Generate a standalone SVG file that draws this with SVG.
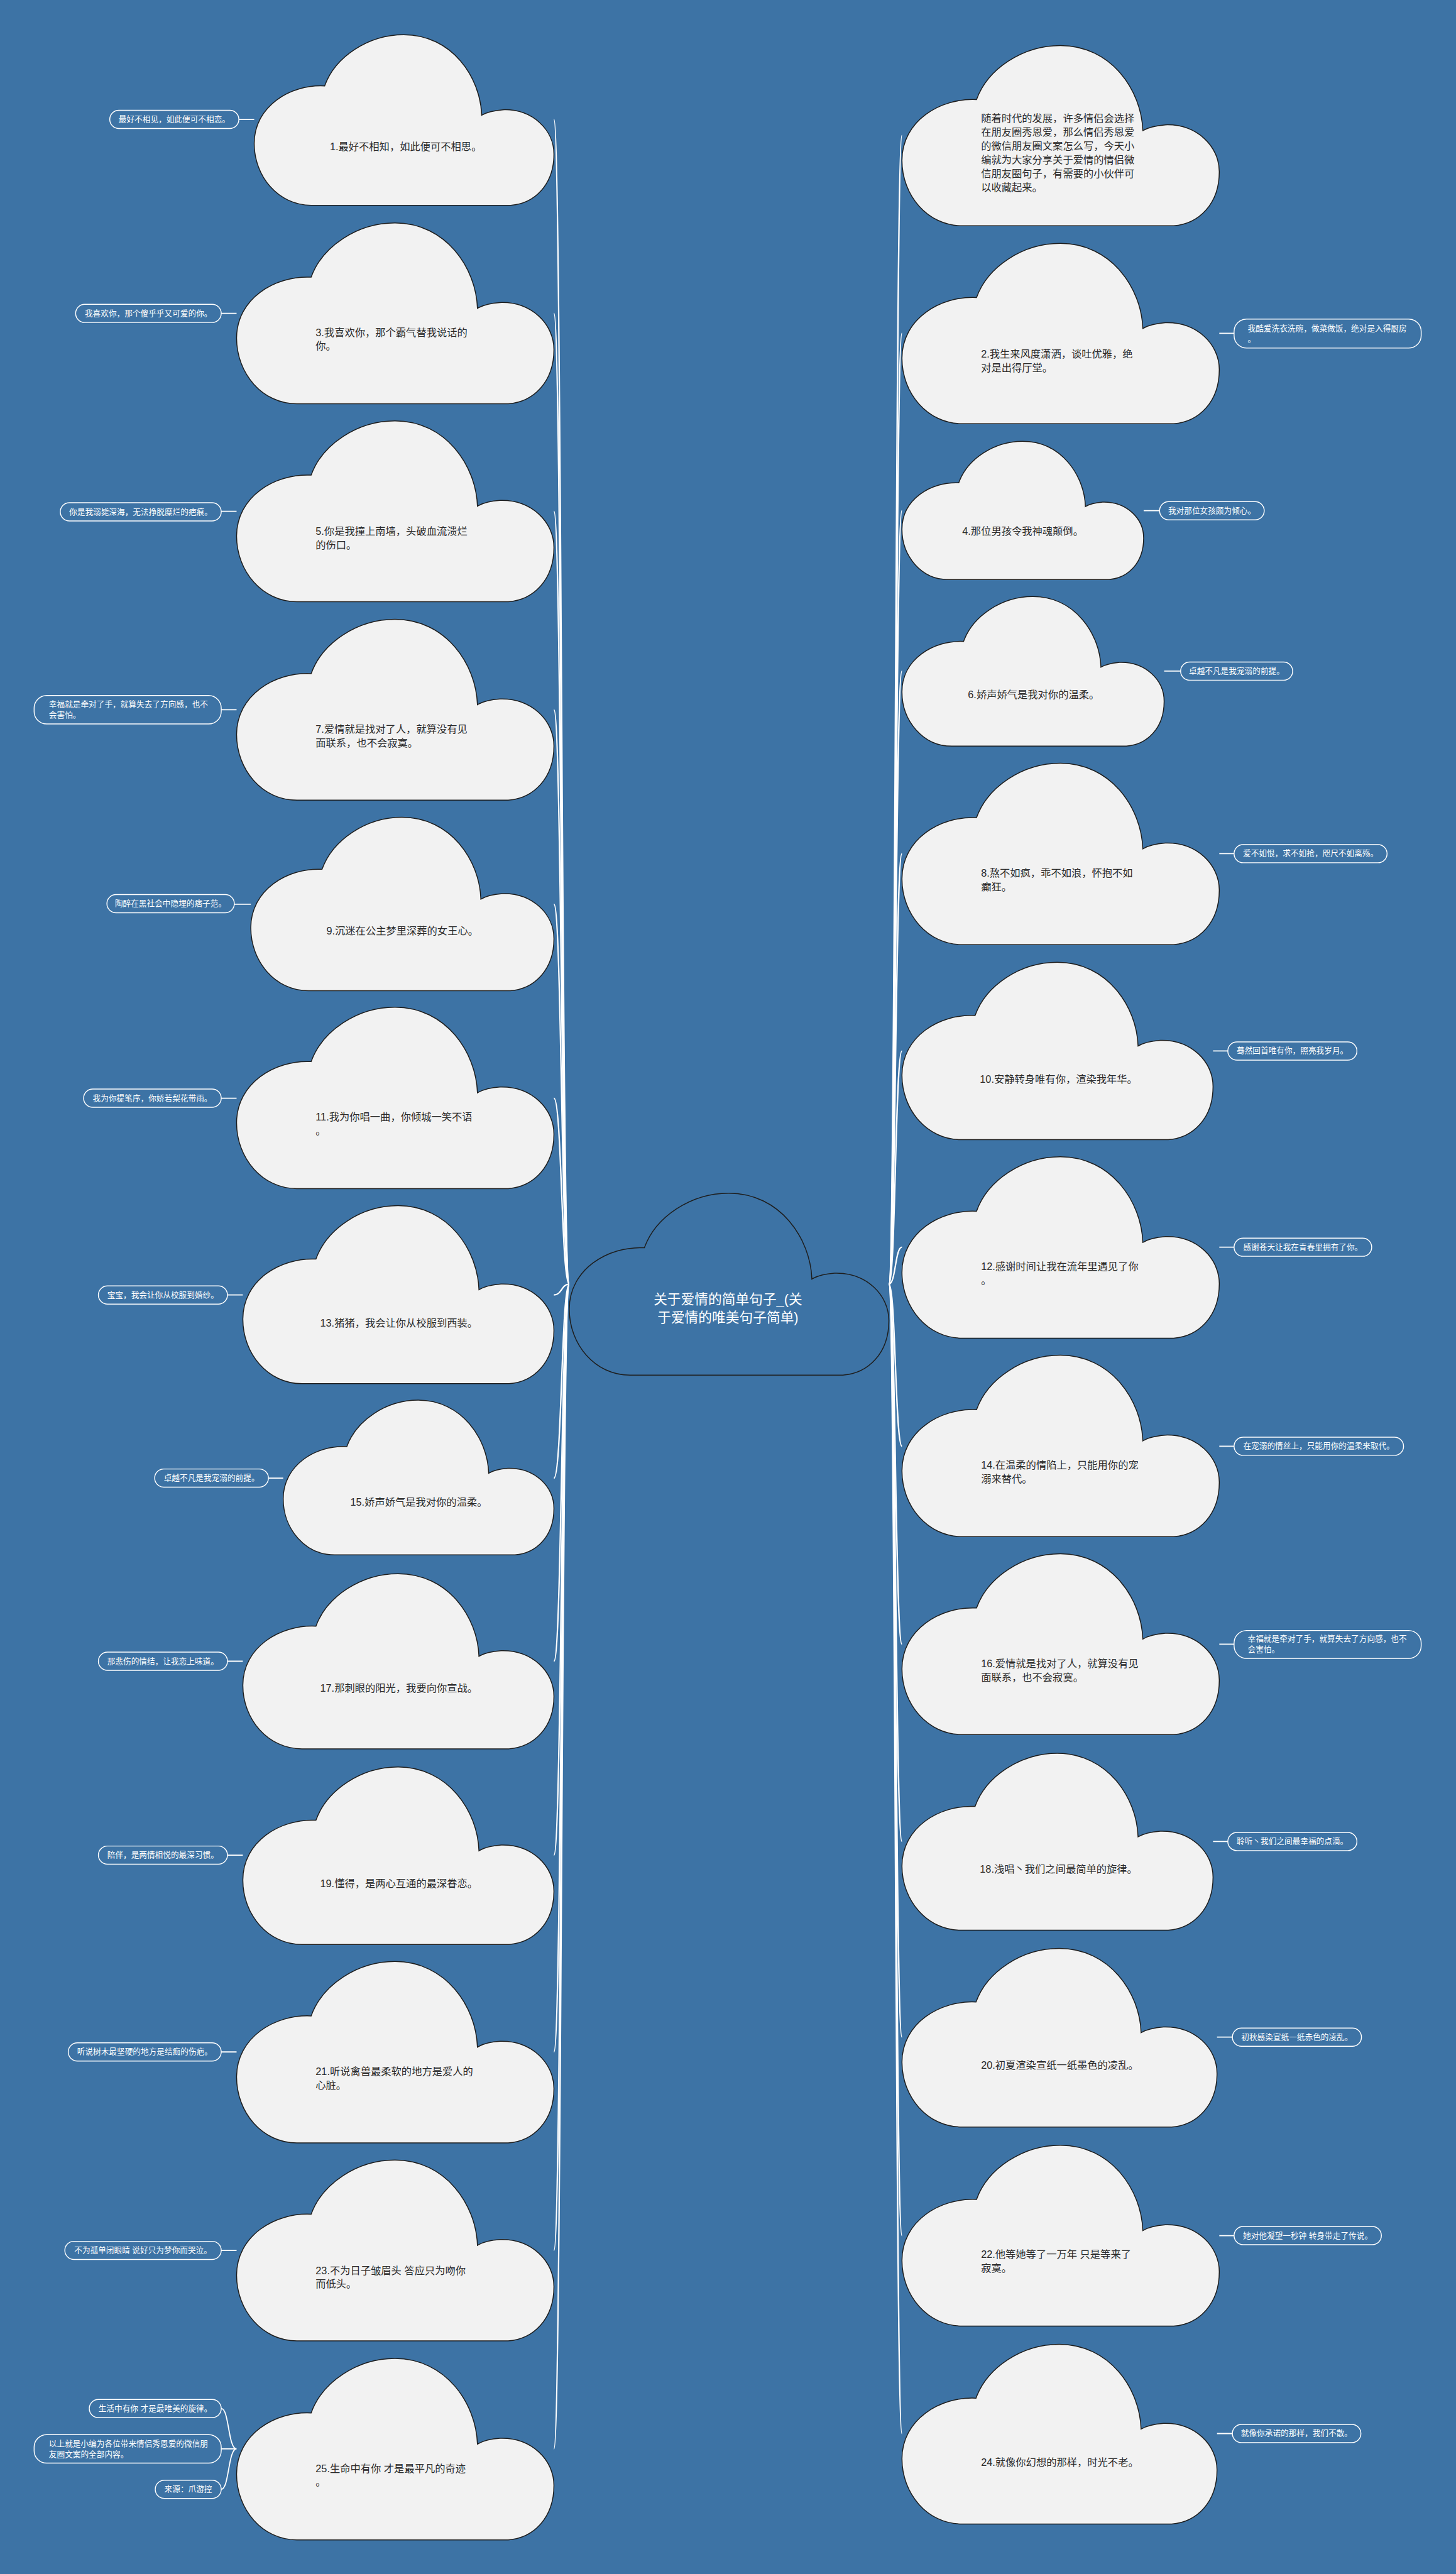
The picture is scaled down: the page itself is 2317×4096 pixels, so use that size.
<svg xmlns="http://www.w3.org/2000/svg" xmlns:xlink="http://www.w3.org/1999/xlink" width="2317" height="4096" viewBox="0 0 2317 4096">
<style>
.ct{font-family:'Liberation Sans','Noto Sans CJK SC',sans-serif;font-size:18px;fill:#2a2a2a;dominant-baseline:central}
.lt{font-family:'Liberation Sans','Noto Sans CJK SC',sans-serif;font-size:14px;fill:#ffffff;dominant-baseline:central;text-anchor:middle}
.lt2{font-family:'Liberation Sans','Noto Sans CJK SC',sans-serif;font-size:14px;fill:#ffffff;dominant-baseline:central}
.mt{font-family:'Liberation Sans','Noto Sans CJK SC',sans-serif;font-size:24px;fill:#ffffff;dominant-baseline:central;text-anchor:middle}
.cl{fill:#f2f2f2;stroke:#1e1e1e}
.cm{fill:#3d73a5;stroke:#1e1e1e}
.lb{fill:none;stroke:#ffffff;stroke-width:1.6}
.cn{fill:none;stroke:#ffffff;stroke-width:2.5}
.lk{fill:none;stroke:#ffffff;stroke-width:2}
</style>
<defs>
<path id="cloud" vector-effect="non-scaling-stroke" stroke-width="1.5" d="M190,1000 L856,1000 C935,990 1000,880 1000,700 C1000,560 930,435 830,440 C800,444 775,455 759,472 C755,250 660,0 499,0 C380,0 270,130 235,300 C120,290 0,420 0,637 C0,830 80,1000 190,1000 Z"/>
</defs>
<rect x="0" y="0" width="2317" height="4096" fill="#3d73a5"/>
<g transform="scale(0.905)">
<g id="connectors">
<path class="cn" d="M1001,2258 C987,2258 988,210 974,210"/>
<path class="cn" d="M1001,2258 C987,2258 988,551 974,551"/>
<path class="cn" d="M1001,2258 C987,2258 988,899 974,899"/>
<path class="cn" d="M1001,2258 C987,2258 988,1248 974,1248"/>
<path class="cn" d="M1001,2258 C987,2258 988,1590 974,1590"/>
<path class="cn" d="M1001,2258 C987,2258 988,1931 974,1931"/>
<path class="cn" d="M1001,2258 C987,2258 988,2277 974,2277"/>
<path class="cn" d="M1001,2258 C987,2258 988,2599 974,2599"/>
<path class="cn" d="M1001,2258 C987,2258 988,2921 974,2921"/>
<path class="cn" d="M1001,2258 C987,2258 988,3262 974,3262"/>
<path class="cn" d="M1001,2258 C987,2258 988,3608 974,3608"/>
<path class="cn" d="M1001,2258 C987,2258 988,3957 974,3957"/>
<path class="cn" d="M1001,2258 C987,2258 988,4306 974,4306"/>
<path class="cn" d="M1563,2258 C1575,2258 1574,238 1586,238"/>
<path class="cn" d="M1563,2258 C1575,2258 1574,586 1586,586"/>
<path class="cn" d="M1563,2258 C1575,2258 1574,898 1586,898"/>
<path class="cn" d="M1563,2258 C1575,2258 1574,1180 1586,1180"/>
<path class="cn" d="M1563,2258 C1575,2258 1574,1501 1586,1501"/>
<path class="cn" d="M1563,2258 C1575,2258 1574,1848 1586,1848"/>
<path class="cn" d="M1563,2258 C1575,2258 1574,2193 1586,2193"/>
<path class="cn" d="M1563,2258 C1575,2258 1574,2543 1586,2543"/>
<path class="cn" d="M1563,2258 C1575,2258 1574,2891 1586,2891"/>
<path class="cn" d="M1563,2258 C1575,2258 1574,3238 1586,3238"/>
<path class="cn" d="M1563,2258 C1575,2258 1574,3582 1586,3582"/>
<path class="cn" d="M1563,2258 C1575,2258 1574,3931 1586,3931"/>
<path class="cn" d="M1563,2258 C1575,2258 1574,4279 1586,4279"/>
<path class="lk" d="M420,210 H447 M389,551 H416 M389,899 H416 M389,1248 H416 M412,1590 H441 M389,1931 H416 M400,2277 H427 M472,2599 H498 M400,2921 H427 M400,3262 H427 M389,3608 H416 M389,3957 H416"/>
<path class="lk" d="M2144,586 H2170 M2011,898 H2039 M2047,1180 H2076 M2144,1501 H2170 M2133,1848 H2159 M2144,2193 H2170 M2144,2543 H2170 M2144,2891 H2170 M2133,3238 H2159 M2140,3582 H2167 M2144,3931 H2170 M2140,4279 H2167"/>
<path class="lk" d="M416,4306 C401,4306 403,4235 389,4235 M416,4306 H389 M416,4306 C401,4306 403,4377 389,4377"/>
</g>
<g id="center">
<use href="#cloud" class="cm" transform="translate(1001,2098) scale(0.562,0.32)"/>
<text class="mt" x="1280" y="2285">关于爱情的简单句子_(关</text>
<text class="mt" x="1280" y="2317">于爱情的唯美句子简单)</text>
</g>
<g id="n1"><use href="#cloud" class="cl" transform="translate(447,61) scale(0.527,0.3)"/>
<text class="ct" x="580" y="258">1.最好不相知，如此便可不相思。</text></g>
<g id="n1l"><rect class="lb" x="193" y="194" width="227" height="32" rx="16"/><text class="lt" x="306.5" y="210">最好不相见，如此便可不相恋。</text></g>
<g id="n3"><use href="#cloud" class="cl" transform="translate(416,392) scale(0.558,0.318)"/>
<text class="ct" x="555" y="584">3.我喜欢你，那个霸气替我说话的</text><text class="ct" x="555" y="608">你。</text></g>
<g id="n3l"><rect class="lb" x="133" y="535" width="256" height="32" rx="16"/><text class="lt" x="261" y="551">我喜欢你，那个傻乎乎又可爱的你。</text></g>
<g id="n5"><use href="#cloud" class="cl" transform="translate(416,740) scale(0.558,0.318)"/>
<text class="ct" x="555" y="934">5.你是我撞上南墙，头破血流溃烂</text><text class="ct" x="555" y="958">的伤口。</text></g>
<g id="n5l"><rect class="lb" x="106" y="884" width="283" height="32" rx="16"/><text class="lt" x="247.5" y="900">你是我溺毙深海，无法挣脱糜烂的疤痕。</text></g>
<g id="n7"><use href="#cloud" class="cl" transform="translate(416,1089) scale(0.558,0.318)"/>
<text class="ct" x="555" y="1282">7.爱情就是找对了人，就算没有见</text><text class="ct" x="555" y="1306">面联系，也不会寂寞。</text></g>
<g id="n7l"><rect class="lb" x="60" y="1223" width="329" height="50" rx="22"/><text class="lt2" x="86" y="1239">幸福就是牵对了手，就算失去了方向感，也不</text><text class="lt2" x="86" y="1258">会害怕。</text></g>
<g id="n9"><use href="#cloud" class="cl" transform="translate(441,1437) scale(0.533,0.305)"/>
<text class="ct" x="574" y="1637">9.沉迷在公主梦里深葬的女王心。</text></g>
<g id="n9l"><rect class="lb" x="188" y="1573" width="224" height="32" rx="16"/><text class="lt" x="300" y="1589">陶醉在黑社会中隐埋的痞子范。</text></g>
<g id="n11"><use href="#cloud" class="cl" transform="translate(416,1771) scale(0.558,0.319)"/>
<text class="ct" x="555" y="1964">11.我为你唱一曲，你倾城一笑不语</text><text class="ct" x="555" y="1988">。</text></g>
<g id="n11l"><rect class="lb" x="147" y="1915" width="242" height="32" rx="16"/><text class="lt" x="268" y="1931">我为你提笔序，你娇若梨花带雨。</text></g>
<g id="n13"><use href="#cloud" class="cl" transform="translate(427,2120) scale(0.547,0.313)"/>
<text class="ct" x="563" y="2326">13.猪猪，我会让你从校服到西装。</text></g>
<g id="n13l"><rect class="lb" x="173" y="2261" width="227" height="32" rx="16"/><text class="lt" x="286.5" y="2277">宝宝，我会让你从校服到婚纱。</text></g>
<g id="n15"><use href="#cloud" class="cl" transform="translate(498,2462) scale(0.476,0.272)"/>
<text class="ct" x="616" y="2641">15.娇声娇气是我对你的温柔。</text></g>
<g id="n15l"><rect class="lb" x="272" y="2583" width="200" height="32" rx="16"/><text class="lt" x="372" y="2599">卓越不凡是我宠溺的前提。</text></g>
<g id="n17"><use href="#cloud" class="cl" transform="translate(427,2767) scale(0.547,0.308)"/>
<text class="ct" x="563" y="2968">17.那刺眼的阳光，我要向你宣战。</text></g>
<g id="n17l"><rect class="lb" x="173" y="2905" width="227" height="32" rx="16"/><text class="lt" x="286.5" y="2921">那悲伤的情结，让我恋上味道。</text></g>
<g id="n19"><use href="#cloud" class="cl" transform="translate(427,3107) scale(0.547,0.312)"/>
<text class="ct" x="563" y="3312">19.懂得，是两心互通的最深眷恋。</text></g>
<g id="n19l"><rect class="lb" x="173" y="3246" width="227" height="32" rx="16"/><text class="lt" x="286.5" y="3262">陪伴，是两情相悦的最深习惯。</text></g>
<g id="n21"><use href="#cloud" class="cl" transform="translate(416,3449) scale(0.558,0.319)"/>
<text class="ct" x="555" y="3642">21.听说禽兽最柔软的地方是爱人的</text><text class="ct" x="555" y="3666">心脏。</text></g>
<g id="n21l"><rect class="lb" x="120" y="3592" width="269" height="32" rx="16"/><text class="lt" x="254.5" y="3608">听说树木最坚硬的地方是结痂的伤疤。</text></g>
<g id="n23"><use href="#cloud" class="cl" transform="translate(416,3798) scale(0.558,0.318)"/>
<text class="ct" x="555" y="3992">23.不为日子皱眉头 答应只为吻你</text><text class="ct" x="555" y="4016">而低头。</text></g>
<g id="n23l"><rect class="lb" x="114" y="3941" width="275" height="32" rx="16"/><text class="lt" x="251.5" y="3957">不为孤单闭眼睛 说好只为梦你而哭泣。</text></g>
<g id="n25"><use href="#cloud" class="cl" transform="translate(416,4147) scale(0.558,0.319)"/>
<text class="ct" x="555" y="4340">25.生命中有你 才是最平凡的奇迹</text><text class="ct" x="555" y="4364">。</text></g>
<g id="n25a"><rect class="lb" x="157" y="4219" width="232" height="32" rx="16"/><text class="lt" x="273" y="4235">生活中有你 才是最唯美的旋律。</text></g>
<g id="n25b"><rect class="lb" x="60" y="4281" width="329" height="50" rx="22"/><text class="lt2" x="86" y="4297">以上就是小编为各位带来情侣秀恩爱的微信朋</text><text class="lt2" x="86" y="4316">友圈文案的全部内容。</text></g>
<g id="n25c"><rect class="lb" x="273" y="4361" width="116" height="32" rx="16"/><text class="lt" x="331" y="4377">来源：爪游控</text></g>
<g id="intro"><use href="#cloud" class="cl" transform="translate(1586,80) scale(0.558,0.317)"/>
<text class="ct" x="1725" y="208">随着时代的发展，许多情侣会选择</text>
<text class="ct" x="1725" y="232">在朋友圈秀恩爱，那么情侣秀恩爱</text>
<text class="ct" x="1725" y="256">的微信朋友圈文案怎么写，今天小</text>
<text class="ct" x="1725" y="281">编就为大家分享关于爱情的情侣微</text>
<text class="ct" x="1725" y="305">信朋友圈句子，有需要的小伙伴可</text>
<text class="ct" x="1725" y="329">以收藏起来。</text></g>
<g id="n2"><use href="#cloud" class="cl" transform="translate(1586,428) scale(0.558,0.317)"/>
<text class="ct" x="1725" y="622">2.我生来风度潇洒，谈吐优雅，绝</text><text class="ct" x="1725" y="646">对是出得厅堂。</text></g>
<g id="n2l"><rect class="lb" x="2170" y="561" width="329" height="51" rx="22"/><text class="lt2" x="2194" y="578">我酷爱洗衣洗碗，做菜做饭，绝对是入得厨房</text><text class="lt2" x="2194" y="597">。</text></g>
<g id="n4"><use href="#cloud" class="cl" transform="translate(1586,776) scale(0.425,0.243)"/>
<text class="ct" x="1692" y="934">4.那位男孩令我神魂颠倒。</text></g>
<g id="n4l"><rect class="lb" x="2039" y="882" width="184" height="32" rx="16"/><text class="lt" x="2131" y="898">我对那位女孩颇为倾心。</text></g>
<g id="n6"><use href="#cloud" class="cl" transform="translate(1586,1049) scale(0.461,0.263)"/>
<text class="ct" x="1702" y="1221">6.娇声娇气是我对你的温柔。</text></g>
<g id="n6l"><rect class="lb" x="2076" y="1164" width="197" height="32" rx="16"/><text class="lt" x="2174.5" y="1180">卓越不凡是我宠溺的前提。</text></g>
<g id="n8"><use href="#cloud" class="cl" transform="translate(1586,1342) scale(0.558,0.319)"/>
<text class="ct" x="1725" y="1535">8.熬不如疯，乖不如浪，怀抱不如</text><text class="ct" x="1725" y="1559">癫狂。</text></g>
<g id="n8l"><rect class="lb" x="2170" y="1485" width="269" height="32" rx="16"/><text class="lt" x="2304.5" y="1501">爱不如恨，求不如抢，咫尺不如离殇。</text></g>
<g id="n10"><use href="#cloud" class="cl" transform="translate(1586,1692) scale(0.547,0.312)"/>
<text class="ct" x="1723" y="1897">10.安静转身唯有你，渲染我年华。</text></g>
<g id="n10l"><rect class="lb" x="2159" y="1832" width="227" height="32" rx="16"/><text class="lt" x="2272.5" y="1848">蓦然回首唯有你，照亮我岁月。</text></g>
<g id="n12"><use href="#cloud" class="cl" transform="translate(1586,2034) scale(0.558,0.319)"/>
<text class="ct" x="1725" y="2227">12.感谢时间让我在流年里遇见了你</text><text class="ct" x="1725" y="2251">。</text></g>
<g id="n12l"><rect class="lb" x="2170" y="2177" width="242" height="32" rx="16"/><text class="lt" x="2291" y="2193">感谢苍天让我在青春里拥有了你。</text></g>
<g id="n14"><use href="#cloud" class="cl" transform="translate(1586,2383) scale(0.558,0.319)"/>
<text class="ct" x="1725" y="2576">14.在温柔的情陷上，只能用你的宠</text><text class="ct" x="1725" y="2600">溺来替代。</text></g>
<g id="n14l"><rect class="lb" x="2170" y="2527" width="298" height="32" rx="16"/><text class="lt" x="2319" y="2543">在宠溺的情丝上，只能用你的温柔来取代。</text></g>
<g id="n16"><use href="#cloud" class="cl" transform="translate(1586,2732) scale(0.558,0.318)"/>
<text class="ct" x="1725" y="2925">16.爱情就是找对了人，就算没有见</text><text class="ct" x="1725" y="2949">面联系，也不会寂寞。</text></g>
<g id="n16l"><rect class="lb" x="2170" y="2867" width="329" height="49" rx="22"/><text class="lt2" x="2194" y="2882">幸福就是牵对了手，就算失去了方向感，也不</text><text class="lt2" x="2194" y="2901">会害怕。</text></g>
<g id="n18"><use href="#cloud" class="cl" transform="translate(1586,3083) scale(0.547,0.311)"/>
<text class="ct" x="1723" y="3286">18.浅唱丶我们之间最简单的旋律。</text></g>
<g id="n18l"><rect class="lb" x="2159" y="3222" width="227" height="32" rx="16"/><text class="lt" x="2272.5" y="3238">聆听丶我们之间最幸福的点滴。</text></g>
<g id="n20"><use href="#cloud" class="cl" transform="translate(1586,3426) scale(0.554,0.314)"/>
<text class="ct" x="1725" y="3631">20.初夏渲染宣纸一纸墨色的凌乱。</text></g>
<g id="n20l"><rect class="lb" x="2167" y="3566" width="227" height="32" rx="16"/><text class="lt" x="2280.5" y="3582">初秋感染宣纸一纸赤色的凌乱。</text></g>
<g id="n22"><use href="#cloud" class="cl" transform="translate(1586,3772) scale(0.558,0.318)"/>
<text class="ct" x="1725" y="3964">22.他等她等了一万年 只是等来了</text><text class="ct" x="1725" y="3988">寂寞。</text></g>
<g id="n22l"><rect class="lb" x="2170" y="3915" width="259" height="32" rx="16"/><text class="lt" x="2299.5" y="3931">她对他凝望一秒钟 转身带走了传说。</text></g>
<g id="n24"><use href="#cloud" class="cl" transform="translate(1586,4122) scale(0.554,0.316)"/>
<text class="ct" x="1725" y="4329">24.就像你幻想的那样，时光不老。</text></g>
<g id="n24l"><rect class="lb" x="2167" y="4263" width="226" height="32" rx="16"/><text class="lt" x="2280" y="4279">就像你承诺的那样，我们不散。</text></g>
</g>
</svg>
